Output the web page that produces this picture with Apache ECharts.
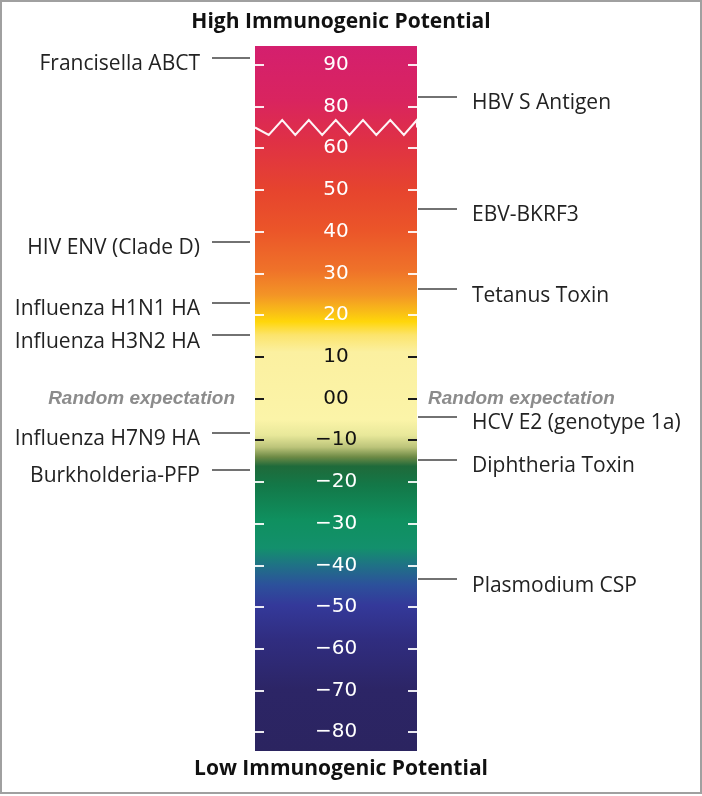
<!DOCTYPE html>
<html>
<head>
<meta charset="utf-8">
<script src="https://cdn.jsdelivr.net/npm/echarts@6/dist/echarts.min.js"></script>
<style>
  html, body { margin: 0; padding: 0; background: #fff; }
  #chart { width: 702px; height: 796px; }
  #frame { position: absolute; left: 0; top: 0; width: 698px; height: 790px; border: 2px solid #a0a0a0; pointer-events: none; }
</style>
</head>
<body>
<div id="chart"></div>
<div id="frame"></div>
<script>
// scale labels (the axis jumps from 80 to 60)
var scaleTicks = [90, 80, 60, 50, 40, 30, 20, 10, 0, -10, -20, -30, -40, -50, -60, -70, -80];
var darkTicks = [10, 0, -10];
var whiteTicks = scaleTicks.filter(function (v) { return darkTicks.indexOf(v) < 0; });

// antigens on the left side
var leftNames = ['Francisella ABCT', 'HIV ENV (Clade D)', 'Influenza H1N1 HA', 'Influenza H3N2 HA', 'Influenza H7N9 HA', 'Burkholderia-PFP'];
var leftValues = [91.7, 37.6, 23.0, 15.2, -8.2, -17.0];

// antigens on the right side
var rightNames = ['HBV S Antigen', 'EBV-BKRF3', 'Tetanus Toxin', 'HCV E2 (genotype 1a)', 'Diphtheria Toxin', 'Plasmodium CSP'];
var rightValues = [82.4, 45.6, 26.2, -4.4, -14.6, -43.3];

var randomValue = [0];

var myChart = echarts.init(document.getElementById('chart'));

// colour ramp of the bar, top to bottom
var ramp = [
  [0.000, '#d41f6e'], [0.077, '#d9245f'], [0.133, '#df3046'], [0.204, '#e6442e'],
  [0.261, '#eb5529'], [0.318, '#ef7229'], [0.353, '#f39426'], [0.377, '#f9bd17'],
  [0.391, '#ffd60a'], [0.410, '#fce46c'], [0.434, '#fbf0a0'], [0.530, '#fbf4a8'],
  [0.552, '#e8e89a'], [0.569, '#bcc47a'], [0.583, '#6d8a45'], [0.596, '#1f6a3a'],
  [0.623, '#137848'], [0.672, '#0f905f'], [0.712, '#13906c'], [0.736, '#1f7285'],
  [0.764, '#2c519b'], [0.793, '#34399a'], [0.842, '#302d80'], [0.913, '#2c2566'],
  [1.000, '#2b2460']
];

var brk = [{ start: 65, end: 75, gap: 0 }];

function yAx(extra) {
  var base = {
    type: 'value', min: -84.5, max: 94.5,
    breaks: brk,
    breakArea: { show: false },
    axisLine: { show: false },
    splitLine: { show: false },
    axisTick: { show: false },
    axisLabel: { show: false }
  };
  return Object.assign(base, extra);
}

var labelFont = { fontFamily: 'Open Sans', fontSize: 21, color: '#222', verticalAlign: 'top', lineHeight: 13 };
var randomFont = { fontFamily: 'Liberation Sans', fontStyle: 'italic', fontWeight: 'bold', fontSize: 19, color: '#8c8c8c' };

var option = {
  animation: false,
  title: [
    { text: 'High Immunogenic Potential', left: 336, top: 7, textAlign: 'center',
      textStyle: { fontFamily: 'Open Sans', fontWeight: 'bold', fontSize: 21, color: '#111' } },
    { text: 'Low Immunogenic Potential', left: 336, top: 754, textAlign: 'center',
      textStyle: { fontFamily: 'Open Sans', fontWeight: 'bold', fontSize: 21, color: '#111' } }
  ],
  grid: {
    left: 255, right: 285, top: 46, bottom: 45,
    show: true, borderWidth: 0,
    backgroundColor: new echarts.graphic.LinearGradient(0, 0, 0, 1,
      ramp.map(function (s) { return { offset: s[0], color: s[1] }; }))
  },
  xAxis: { type: 'value', min: 0, max: 1, show: false },
  yAxis: [
    yAx({
      position: 'left',
      breakArea: {
        show: true, expandOnClick: false,
        zigzagAmplitude: 7.5, zigzagMinSpan: 13, zigzagMaxSpan: 14, zigzagZ: 100,
        itemStyle: { color: 'rgba(0,0,0,0)', borderColor: 'rgba(255,255,255,0.95)', borderWidth: 2, borderType: 'solid', opacity: 1 }
      },
      axisTick: { show: true, inside: true, length: 9, customValues: whiteTicks,
        lineStyle: { color: 'rgba(255,255,255,0.9)', width: 2 } },
      axisLabel: {
        show: true, customValues: scaleTicks, margin: -81, align: 'center',
        fontFamily: 'DejaVu Sans', fontSize: 20,
        formatter: function (v) { return v === 0 ? '00' : String(v).replace('-', '\u2212'); },
        color: function (v) { return darkTicks.map(String).indexOf(String(v)) >= 0 ? '#111' : '#fff'; }
      }
    }),
    yAx({
      position: 'right',
      axisTick: { show: true, inside: true, length: 9, customValues: whiteTicks,
        lineStyle: { color: 'rgba(255,255,255,0.9)', width: 2 } }
    }),
    yAx({
      position: 'left',
      axisTick: { show: true, inside: true, length: 9, customValues: darkTicks,
        lineStyle: { color: '#1a1a1a', width: 2 } }
    }),
    yAx({
      position: 'right',
      axisTick: { show: true, inside: true, length: 9, customValues: darkTicks,
        lineStyle: { color: '#1a1a1a', width: 2 } }
    }),
    yAx({
      position: 'left', offset: 5,
      axisTick: { show: true, length: 38, customValues: leftValues,
        lineStyle: { color: '#444', width: 1.5 } },
      axisLabel: Object.assign({
        show: true, customValues: leftValues, margin: 50,
        formatter: function (v) { return leftNames[leftValues.indexOf(+v)]; }
      }, labelFont)
    }),
    yAx({
      position: 'right', offset: 1,
      axisTick: { show: true, length: 39, customValues: rightValues,
        lineStyle: { color: '#444', width: 1.5 } },
      axisLabel: Object.assign({
        show: true, customValues: rightValues, margin: 54,
        formatter: function (v) { return rightNames[rightValues.indexOf(+v)]; }
      }, labelFont)
    }),
    yAx({
      position: 'left',
      axisLabel: Object.assign({
        show: true, customValues: randomValue, margin: 20,
        formatter: 'Random expectation'
      }, randomFont)
    }),
    yAx({
      position: 'right',
      axisLabel: Object.assign({
        show: true, customValues: randomValue, margin: 11,
        formatter: 'Random expectation'
      }, randomFont)
    })
  ],
  series: []
};

myChart.setOption(option);
</script>
</body>
</html>
